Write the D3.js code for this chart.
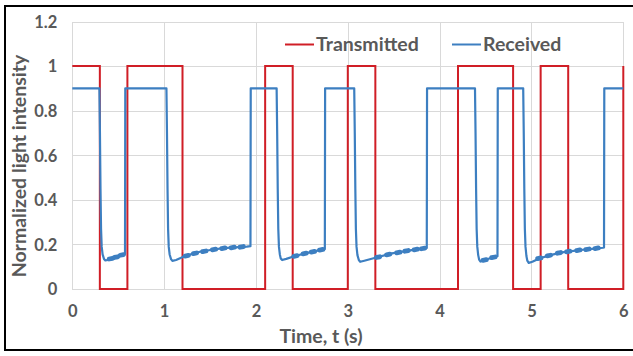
<!DOCTYPE html>
<html><head><meta charset="utf-8">
<script src="https://cdn.jsdelivr.net/npm/d3@7"></script>
<style>
html,body{margin:0;padding:0;background:#fff;}
svg{display:block;}
text{font-family:Lato,"Open Sans",sans-serif;font-weight:700;fill:#595959;}
</style></head>
<body>
<script>
// ---- data ----
const xTicks = [0, 1, 2, 3, 4, 5, 6];
const yTicks = [0, 0.2, 0.4, 0.6, 0.8, 1, 1.2];
const yTickLabels = ["0", "0.2", "0.4", "0.6", "0.8", "1", "1.2"];
const seriesNames = ["Transmitted", "Received"];
const seriesColors = ["#d01e26", "#3d7fc1"];

// transmitted square wave: [time, level] (level holds until next time)
const transmitted = [
  [0, 1], [0.3, 0], [0.6, 1], [1.2, 0], [2.1, 1], [2.4, 0],
  [3.0, 1], [3.3, 0], [4.2, 1], [4.8, 0], [5.1, 1], [5.4, 0], [6.0, 1]
];

// received signal: [time, intensity]
const received = [
  [0, 0.9], [0.295, 0.9],
  [0.301, 0.7], [0.307, 0.45], [0.313, 0.27], [0.32, 0.19], [0.33, 0.155], [0.345, 0.135], [0.36, 0.128],
  [0.40, 0.132], [0.466, 0.142], [0.52, 0.15], [0.56, 0.156], [0.574, 0.158],
  [0.577, 0.9], [1.025, 0.9],
  [1.031, 0.7], [1.037, 0.45], [1.043, 0.27], [1.05, 0.19], [1.06, 0.155], [1.075, 0.134], [1.09, 0.126],
  [1.13, 0.13], [1.21, 0.145], [1.30, 0.157], [1.39, 0.167], [1.52, 0.176], [1.645, 0.183], [1.77, 0.187], [1.90, 0.19], [1.94, 0.192],
  [1.943, 0.9], [2.225, 0.9],
  [2.231, 0.7], [2.237, 0.45], [2.243, 0.27], [2.25, 0.19], [2.26, 0.155], [2.27, 0.137], [2.285, 0.130],
  [2.33, 0.135], [2.425, 0.148], [2.57, 0.163], [2.733, 0.178], [2.75, 0.179],
  [2.753, 0.9], [3.07, 0.9],
  [3.076, 0.7], [3.082, 0.45], [3.088, 0.27], [3.095, 0.19], [3.105, 0.152], [3.12, 0.13], [3.135, 0.122],
  [3.18, 0.127], [3.30, 0.14], [3.48, 0.16], [3.66, 0.172], [3.84, 0.183], [3.86, 0.184],
  [3.863, 0.9], [4.385, 0.9],
  [4.391, 0.7], [4.397, 0.45], [4.403, 0.27], [4.41, 0.19], [4.42, 0.152], [4.43, 0.132], [4.445, 0.123],
  [4.49, 0.13], [4.55, 0.138], [4.61, 0.145], [4.63, 0.147],
  [4.633, 0.9], [4.91, 0.9],
  [4.916, 0.7], [4.922, 0.45], [4.928, 0.27], [4.935, 0.19], [4.945, 0.148], [4.955, 0.127], [4.97, 0.117],
  [5.01, 0.122], [5.09, 0.138], [5.20, 0.151], [5.31, 0.163], [5.42, 0.169], [5.53, 0.175], [5.66, 0.18], [5.78, 0.185], [5.79, 0.186],
  [5.793, 0.9], [6.0, 0.9]
];

// noise "beads" visible on the received low-level segments: [time, intensity]
const receivedBeads = [
  [0.42, 0.136], [0.477, 0.143], [0.54, 0.153],
  [1.246, 0.149], [1.336, 0.160], [1.437, 0.169], [1.543, 0.177], [1.645, 0.183], [1.747, 0.186], [1.845, 0.189],
  [2.43, 0.148], [2.53, 0.159], [2.62, 0.167], [2.71, 0.176],
  [3.33, 0.143], [3.44, 0.155], [3.55, 0.164], [3.64, 0.171], [3.74, 0.177], [3.82, 0.182],
  [4.49, 0.13], [4.585, 0.142],
  [5.085, 0.138], [5.19, 0.150], [5.30, 0.162], [5.40, 0.168], [5.51, 0.174], [5.61, 0.178], [5.71, 0.183]
];

// ---- chart ----
const W = 633, H = 356;
const plot = {left: 72.3, right: 623.3, top: 21.5, bottom: 289};

const svg = d3.select("body").append("svg").attr("width", W).attr("height", H);

// outer frame
svg.append("rect").attr("x", 5).attr("y", 6).attr("width", 640).attr("height", 344)
  .attr("fill", "none").attr("stroke", "#000").attr("stroke-width", 2);

const x = d3.scaleLinear().domain([0, 6]).range([plot.left, plot.right]);
const y = d3.scaleLinear().domain([0, 1.2]).range([plot.bottom, plot.top]);

// gridlines
const grid = svg.append("g").attr("stroke", "#d9d9d9").attr("stroke-width", 1).attr("shape-rendering", "crispEdges");
grid.selectAll(".hg").data(yTicks).join("line")
  .attr("x1", plot.left).attr("x2", plot.right)
  .attr("y1", d => Math.round(y(d)) + 0.5).attr("y2", d => Math.round(y(d)) + 0.5);
grid.selectAll(".vg").data(xTicks).join("line")
  .attr("y1", plot.top).attr("y2", plot.bottom)
  .attr("x1", d => Math.round(x(d)) + 0.5).attr("x2", d => Math.round(x(d)) + 0.5);

// axes labels via d3 axes
const yAxis = d3.axisLeft(y).tickValues(yTicks).tickSize(0).tickPadding(0)
  .tickFormat((d, i) => yTickLabels[i]);
const gy = svg.append("g").attr("transform", `translate(${plot.left - 15},0)`).call(yAxis);
gy.select(".domain").remove();
gy.selectAll("text").attr("font-size", 16.5).attr("font-family", "Lato").attr("font-weight", 700).attr("fill", "#595959").attr("dy", "0.35em");

const xAxis = d3.axisBottom(x).tickValues(xTicks).tickSize(0).tickPadding(0).tickFormat(d3.format("d"));
const gx = svg.append("g").attr("transform", `translate(0,${plot.bottom + 16})`).call(xAxis);
gx.select(".domain").remove();
gx.selectAll("text").attr("font-size", 16.5).attr("font-family", "Lato").attr("font-weight", 700).attr("fill", "#595959").attr("dy", "0.71em");

// axis titles
svg.append("text").attr("x", 321).attr("y", 343)
  .attr("text-anchor", "middle").attr("font-size", 19.5).text("Time, t (s)");
svg.append("text").attr("transform", `translate(26,166) rotate(-90)`)
  .attr("text-anchor", "middle").attr("font-size", 19.5).text("Normalized light intensity");

// series
const lineStep = d3.line().x(d => x(d[0])).y(d => y(d[1])).curve(d3.curveStepAfter);
const lineLin = d3.line().x(d => x(d[0])).y(d => y(d[1]));

svg.append("path").datum(transmitted).attr("d", lineStep)
  .attr("fill", "none").attr("stroke", seriesColors[0]).attr("stroke-width", 2).attr("stroke-linejoin", "miter");

svg.append("path").datum(received).attr("d", lineLin)
  .attr("fill", "none").attr("stroke", seriesColors[1]).attr("stroke-width", 2.2).attr("stroke-linejoin", "round");

svg.append("g").selectAll("path").data(receivedBeads).join("path")
  .attr("d", d => lineLin([[d[0] - 0.018, d[1] - 0.0015], [d[0] + 0.018, d[1] + 0.0015]]))
  .attr("fill", "none").attr("stroke", seriesColors[1]).attr("stroke-width", 4.8).attr("stroke-linecap", "round");

// legend
const legendX = [285, 452];
const lg = svg.append("g");
seriesNames.forEach((name, i) => {
  lg.append("line").attr("x1", legendX[i]).attr("x2", legendX[i] + 29).attr("y1", 44.5).attr("y2", 44.5)
    .attr("stroke", seriesColors[i]).attr("stroke-width", 2);
  lg.append("text").attr("x", legendX[i] + 31).attr("y", 51).attr("font-size", 19.5).text(name);
});
</script>
</body></html>
